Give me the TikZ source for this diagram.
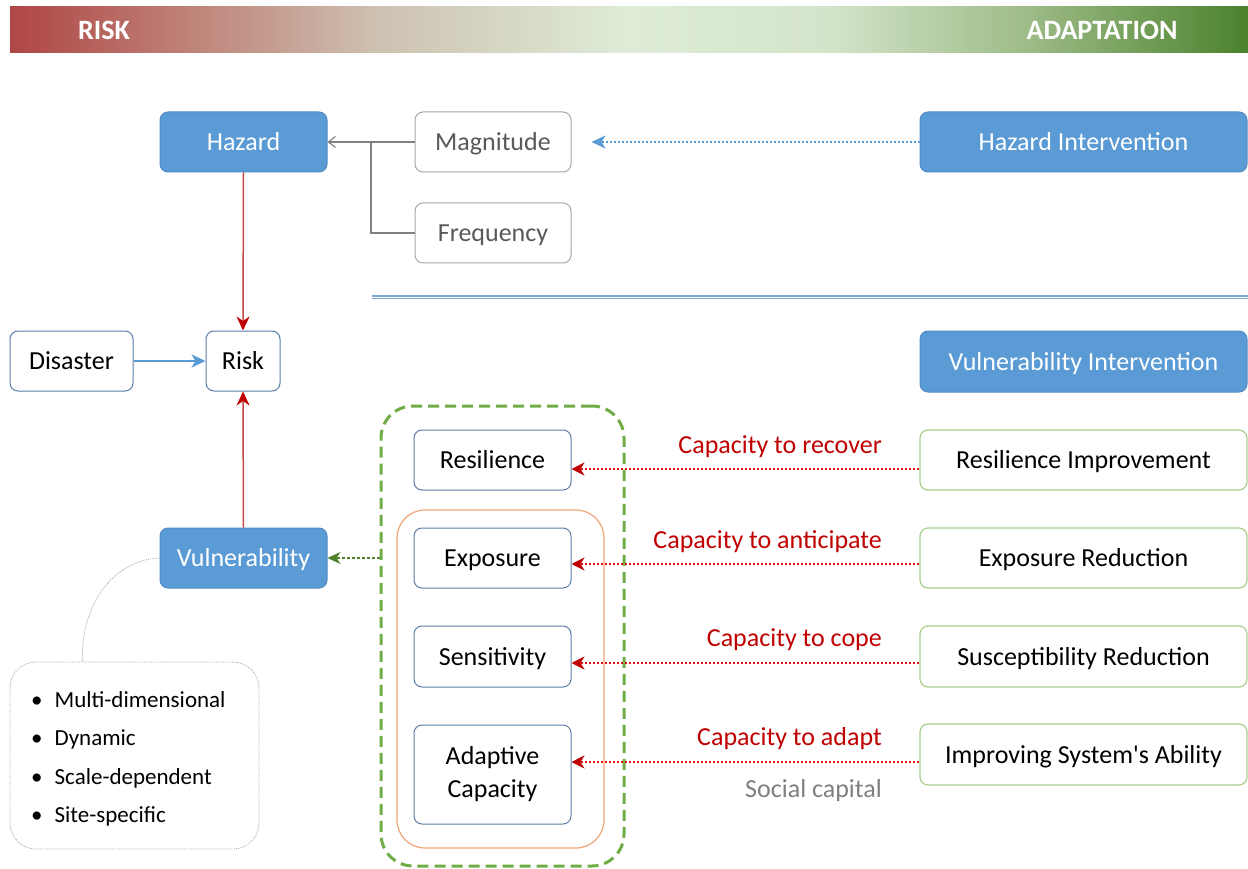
\documentclass[tikz,border=0pt]{standalone}
\usepackage{fontspec}
\setmainfont{Carlito}[Ligatures=TeXOff]
\usetikzlibrary{arrows.meta,calc}

\definecolor{boxblue}{HTML}{5B9BD5}
\definecolor{boxblueline}{HTML}{4F8CC6}
\definecolor{slate}{HTML}{5A7FA6}
\definecolor{softgray}{HTML}{A6A6A6}
\definecolor{textgray}{HTML}{595959}
\definecolor{capgray}{HTML}{7F7F7F}
\definecolor{leafgreen}{HTML}{A9CF8C}
\definecolor{dashgreen}{HTML}{70AD47}
\definecolor{darkgreen}{HTML}{4E7F2A}
\definecolor{peach}{HTML}{F0A478}
\definecolor{alert}{HTML}{C00000}
\definecolor{linkred}{HTML}{C0474A}
\definecolor{dotred}{HTML}{E01010}
\definecolor{sepblue}{HTML}{7BA7CF}

\definecolor{g0}{RGB}{175,70,70}
\definecolor{g1}{RGB}{190,128,118}
\definecolor{g2}{RGB}{206,194,178}
\definecolor{g3}{RGB}{222,236,215}
\definecolor{g4}{RGB}{212,228,202}
\definecolor{g5}{RGB}{158,188,136}
\definecolor{g6}{RGB}{75,130,45}
\pgfdeclarehorizontalshading{riskadapt}{100bp}{%
  color(0bp)=(g0); color(25bp)=(g0); color(32bp)=(g1); color(40bp)=(g2);
  color(50bp)=(g3); color(58bp)=(g4); color(66bp)=(g5); color(75bp)=(g6);
  color(100bp)=(g6)}

\tikzset{
  txt/.style={font=\fontsize{26}{31}\selectfont, inner sep=0pt, align=center,
              text height=21pt, text depth=4pt},
  bluebox/.style={txt, rounded corners=8pt, fill=boxblue, draw=boxblueline, line width=1pt, text=white},
  riskbox/.style={txt, rounded corners=8pt, draw=slate, line width=1pt, fill=white, text=black},
  grayitem/.style={txt, rounded corners=8pt, draw=softgray, line width=1pt, fill=white, text=textgray},
  actbox/.style={txt, rounded corners=8pt, draw=leafgreen, line width=1.2pt, fill=white, text=black},
  caplabel/.style={txt, anchor=east, text=alert},
  wide/.style={minimum width=327pt, minimum height=60pt},
  mid/.style={minimum width=157pt, minimum height=60pt},
  tall/.style={minimum width=167pt, minimum height=60pt},
  redlink/.style={draw=linkred, line width=1.5pt, -{Stealth[length=14pt,width=13pt,inset=4.5pt,color=alert,fill=alert]}},
  capacity/.style={draw=dotred, line width=2pt, dotted, -{Stealth[length=13pt,width=13pt,inset=4pt,color=alert,fill=alert]}},
  graylink/.style={draw=gray, line width=1.2pt},
}

\begin{document}
\begin{tikzpicture}[x=1pt,y=-1pt]
\useasboundingbox (0,0) rectangle (1248,869);

% banner across the top
\shade[shading=riskadapt] (10,7) rectangle (1248,53);
\node[font=\fontsize{28}{30}\selectfont\bfseries, text=white] (risktitle) at (104,30) {RISK};
\node[font=\fontsize{28}{30}\selectfont\bfseries, text=white] (adapttitle) at (1102,30) {ADAPTATION};

% hazard branch
\node[bluebox, tall] (haz) at (243.5,142) {Hazard};
\node[grayitem, minimum width=156pt, minimum height=60pt] (mag) at (493,142) {Magnitude};
\node[grayitem, minimum width=156pt, minimum height=60pt] (freq) at (493,233) {Frequency};
\node[bluebox, wide] (hint) at (1083.5,142) {Hazard Intervention};

\draw[graylink, -{Straight Barb[length=7pt,width=11pt]}] (mag.west) -- (haz.east);
\draw[graylink] (freq.west) -| ($(haz.east)!0.5!(mag.west)$);
\draw[draw=boxblue, line width=2pt, dotted, shorten >=20pt,
      -{Stealth[length=14pt,width=13pt,inset=4pt,fill=boxblue]}] (hint.west) -- (mag.east);

% separator between the two intervention groups
\coordinate (sepL) at (372,297);
\coordinate (sepR) at (1248,297);
\draw[draw=sepblue, line width=3.6pt] (sepL) -- (sepR);
\draw[draw=white, line width=1pt] (sepL) -- (sepR);

% risk
\node[riskbox, minimum width=123pt, minimum height=60pt] (dis) at (71.5,361) {Disaster};
\node[riskbox, minimum width=74pt, minimum height=60pt] (risk) at (243,361) {Risk};
\node[bluebox, wide, minimum height=61pt] (vint) at (1083.5,361.5) {Vulnerability Intervention};

\draw[draw=boxblue, line width=2.2pt, -{Stealth[length=14pt,width=13pt,inset=4pt,fill=boxblue]}] (dis.east) -- (risk.west);
\draw[redlink] (haz.south) -- (risk.north);

% vulnerability components
\node[draw=dashgreen, line width=3pt, dash pattern=on 11pt off 6pt, rounded corners=32pt,
      minimum width=243pt, minimum height=460pt, inner sep=0pt] (vgroup) at (502.5,636) {};
\node[draw=peach, line width=1.2pt, rounded corners=28pt,
      minimum width=207pt, minimum height=338pt, inner sep=0pt] (core) at (500.5,679) {};

\node[bluebox, tall] (vul) at (243.5,558) {Vulnerability};
\draw[redlink] (vul.north) -- (risk.south);

\node[riskbox, mid] (res) at (492.5,460) {Resilience};
\node[riskbox, mid] (expo) at (492.5,558) {Exposure};
\node[riskbox, mid, minimum height=61pt] (sen) at (492.5,656.5) {Sensitivity};
\node[riskbox, minimum width=157pt, minimum height=99pt, text height=, text depth=,
      font=\fontsize{26}{33}\selectfont] (ada) at (492.5,774.5) {Adaptive\\Capacity};

\draw[draw=darkgreen, line width=1.1pt, densely dashed,
      -{Stealth[length=13pt,width=12pt,inset=4pt,color=darkgreen,fill=darkgreen]}]
      (vgroup.west |- vul.east) -- (vul.east);

% properties of vulnerability
\node[draw=softgray, line width=0.8pt, densely dotted, rounded corners=26pt,
      minimum width=249pt, minimum height=187pt, inner sep=0pt] (bul) at (134.5,755.5) {};
\node[anchor=west, inner sep=0pt, font=\fontsize{23}{39}\selectfont, align=left] (bultext) at (31,757)
  {\begin{tabular}{@{}l@{\hspace{12pt}}l@{}}
   \textbullet & Multi-dimensional\\[-0.5pt]
   \textbullet & Dynamic\\[-0.5pt]
   \textbullet & Scale-dependent\\[-0.5pt]
   \textbullet & Site-specific
   \end{tabular}};
\draw[draw=softgray, line width=0.8pt, densely dotted]
  (vul.west) .. controls (110,560) and (80,610) .. ([xshift=-52pt]bul.north);

% adaptation actions
\node[actbox, wide] (ri) at (1083.5,460) {Resilience Improvement};
\node[actbox, wide] (er) at (1083.5,558) {Exposure Reduction};
\node[actbox, wide, minimum height=61pt] (sr) at (1083.5,656.5) {Susceptibility Reduction};
\node[actbox, wide, minimum height=61pt] (isa) at (1083.5,754.5) {Improving System's Ability};

\draw[capacity] ([yshift=-9pt]ri.west) -- ([yshift=-9pt]ri.west -| res.east);
\draw[capacity] ([yshift=-6pt]er.west) -- ([yshift=-6pt]er.west -| expo.east);
\draw[capacity] ([yshift=-6.5pt]sr.west) -- ([yshift=-6.5pt]sr.west -| sen.east);
\draw[capacity] ([yshift=-7.5pt]isa.west) -- ([yshift=-7.5pt]isa.west -| ada.east);

\node[caplabel] (lrec) at (882,445) {Capacity to recover};
\node[caplabel] (lant) at (882,540) {Capacity to anticipate};
\node[caplabel] (lcope) at (882,638) {Capacity to cope};
\node[caplabel] (ladapt) at (882,737) {Capacity to adapt};
\node[txt, anchor=east, text=capgray] (social) at (882,789) {Social capital};

\end{tikzpicture}
\end{document}
